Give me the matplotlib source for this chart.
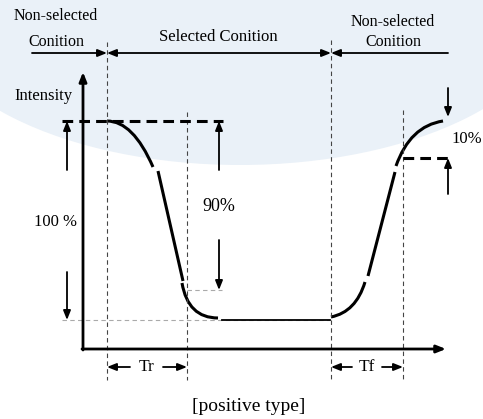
import numpy as np
import matplotlib
matplotlib.use("Agg")
import matplotlib.pyplot as plt
from matplotlib.path import Path
from matplotlib.patches import PathPatch, Ellipse

# diagram geometry, in picture pixels (y grows downward)
axis_origin = (83, 349)
axis_y_top = 72
axis_x_end = 446

level_top = 121
level_90 = 290
level_bottom = 320
level_10 = 158

guide_x = [107, 187, 331, 403]
guide_y0 = [42, 112, 40, 110]

# response curve, split in pieces like the original drawing
# quadratic pieces: start, control, end
curve_quad = [
    [(107, 121), (133, 121), (153, 167)],
    [(182, 283), (188, 318), (218, 318)],
    [(331, 317), (356, 312), (365, 282)],
    [(396, 166), (410, 126), (443, 121)],
]
curve_straight = [
    [(158, 171), (183, 281)],
    [(368, 276), (395, 172)],
]
flat_bottom = [(222, 320), (330, 320)]

# texts: text, x, y, size
labels = [
    ("Non-selected", 56, 16, 11.5),
    ("Conition", 56, 42, 11.5),
    ("Selected Conition", 218, 37, 12),
    ("Non-selected", 393, 22, 11.5),
    ("Conition", 393, 42, 11.5),
    ("Intensity", 14, 96, 12),
    ("100 %", 55, 222, 12),
    ("90%", 219, 206, 13),
    ("10%", 451, 139, 12),
    ("Tr", 147, 367, 12.5),
    ("Tf", 367, 367, 12.5),
    ("[positive type]", 249, 406, 14),
]

W, H = 483, 419
fig = plt.figure(figsize=(W / 100, H / 100), dpi=100)
ax = fig.add_axes([0, 0, 1, 1])
ax.set_xlim(0, W)
ax.set_ylim(H, 0)
ax.axis("off")

serif = ["Liberation Serif", "DejaVu Serif"]

# faint background wash
ax.add_patch(Ellipse((240, 5), 640, 320, color="#eaf1f8", zorder=0, lw=0))

def arrow(tail, tip, lw=1.3, style="-|>"):
    ax.annotate("", xy=tip, xytext=tail,
                arrowprops=dict(arrowstyle=style + ",head_width=0.22,head_length=0.55",
                                lw=lw, color="k", shrinkA=0, shrinkB=0))

# axes
ox, oy = axis_origin
arrow((ox, oy + 1), (ox, axis_y_top), lw=2)
arrow((ox - 1, oy), (axis_x_end, oy), lw=2)

# thin grey guides
for gx, gy in zip(guide_x, guide_y0):
    ax.plot([gx, gx], [gy, 380], color="#444444", lw=0.8, dashes=[4, 3])
ax.plot([187, 222], [level_90, level_90], color="#aaaaaa", lw=0.8, dashes=[4, 3])
ax.plot([62, 330], [level_bottom, level_bottom], color="#aaaaaa", lw=0.8, dashes=[4, 3])

# thick dashed levels
ax.plot([62, 223], [level_top, level_top], color="k", lw=2.2, dashes=[3.5, 2])
ax.plot([403, 453], [level_10, level_10], color="k", lw=2.2, dashes=[3.5, 2])

# curve
for p0, c, p2 in curve_quad:
    path = Path([p0, c, p2], [Path.MOVETO, Path.CURVE3, Path.CURVE3])
    ax.add_patch(PathPatch(path, fc="none", ec="k", lw=2.2, capstyle="butt"))
for (x0, y0), (x1, y1) in curve_straight:
    ax.plot([x0, x1], [y0, y1], color="k", lw=2.2, solid_capstyle="butt")
ax.plot([p[0] for p in flat_bottom], [p[1] for p in flat_bottom], color="k", lw=1.3)

# top condition arrows
arrow((32, 53), (107, 53))
arrow((107, 53), (331, 53), style="<|-|>")
arrow((448, 53), (331, 53))

# level arrows
arrow((67, 170), (67, level_top))
arrow((67, 272), (67, level_bottom))
arrow((219, 170), (219, level_top))
arrow((219, 240), (219, level_90))
arrow((448, 88), (448, 117))
arrow((448, 194), (448, level_10))

# time arrows
arrow((130, 367), (107, 367))
arrow((163, 367), (187, 367))
arrow((352, 367), (331, 367))
arrow((382, 367), (403, 367))

for txt, x, y, fs in labels:
    ha = "left" if txt in ("Intensity", "10%") else "center"
    ax.text(x, y, txt, fontsize=fs, family=serif, ha=ha, va="center", color="k")

fig.savefig("out.png", dpi=100)
